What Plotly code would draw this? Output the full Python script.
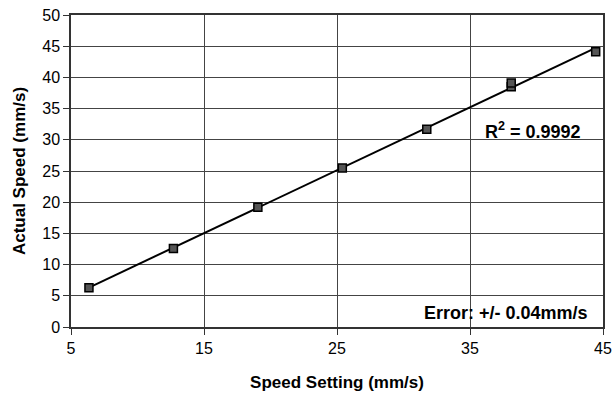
import numpy as np
import plotly.graph_objects as go

speed_setting = [6.35, 12.7, 19.05, 25.4, 31.75, 38.1, 38.1, 44.45]
actual_speed = [6.3, 12.6, 19.2, 25.5, 31.7, 38.5, 39.1, 44.1]
x_ticks = [5, 15, 25, 35, 45]
y_ticks = [0, 5, 10, 15, 20, 25, 30, 35, 40, 45, 50]
r2_label = "R<sup>2</sup> = 0.9992"
error_label = "Error: +/- 0.04mm/s"

slope, intercept = np.polyfit(speed_setting, actual_speed, 1)
fit_x = [min(speed_setting), max(speed_setting)]
fit_y = [slope * v + intercept for v in fit_x]

fig = go.Figure()
fig.add_trace(go.Scatter(x=fit_x, y=fit_y, mode="lines",
                         line=dict(color="black", width=2), showlegend=False))
fig.add_trace(go.Scatter(x=speed_setting, y=actual_speed, mode="markers",
                         marker=dict(symbol="square", size=8, color="#555555",
                                     line=dict(color="black", width=1.5)),
                         showlegend=False))

L, R, T, B = 71, 10, 15, 71
pw, ph = 613 - L - R, 398 - T - B


def px(x):
    return (x - L) / pw


def py(y):
    return 1 - (y - T) / ph


font = "Liberation Sans, Arial, sans-serif"
fig.update_layout(
    width=613, height=398,
    margin=dict(l=L, r=R, t=T, b=B),
    paper_bgcolor="white", plot_bgcolor="white",
    font=dict(family=font, color="black", size=16),
    xaxis=dict(range=[5, 45], tickvals=x_ticks, showgrid=True, gridcolor="#444444",
               gridwidth=1, showline=True, linecolor="#333333", linewidth=1.5, mirror=True,
               ticks="outside", ticklen=6, tickcolor="#333333", zeroline=False,
               automargin=False, tickfont=dict(size=16),
               title=dict(text="<b>Speed Setting (mm/s)</b>", font=dict(size=17), standoff=20)),
    yaxis=dict(range=[0, 50], tickvals=y_ticks, showgrid=True, gridcolor="#444444",
               gridwidth=1, showline=True, linecolor="#333333", linewidth=1.5, mirror=True,
               ticks="outside", ticklen=6, tickcolor="#333333", zeroline=False,
               automargin=False, tickfont=dict(size=16),
               title=dict(text="<b>Actual Speed (mm/s)</b>", font=dict(size=17), standoff=12)),
    annotations=[
        dict(x=px(533), y=py(130), xref="paper", yref="paper", text="<b>" + r2_label + "</b>",
             showarrow=False, font=dict(size=18), xanchor="center", yanchor="middle"),
        dict(x=px(506), y=py(313), xref="paper", yref="paper", text="<b>" + error_label + "</b>",
             showarrow=False, font=dict(size=18), xanchor="center", yanchor="middle"),
    ],
)

fig.write_html("out.html")
